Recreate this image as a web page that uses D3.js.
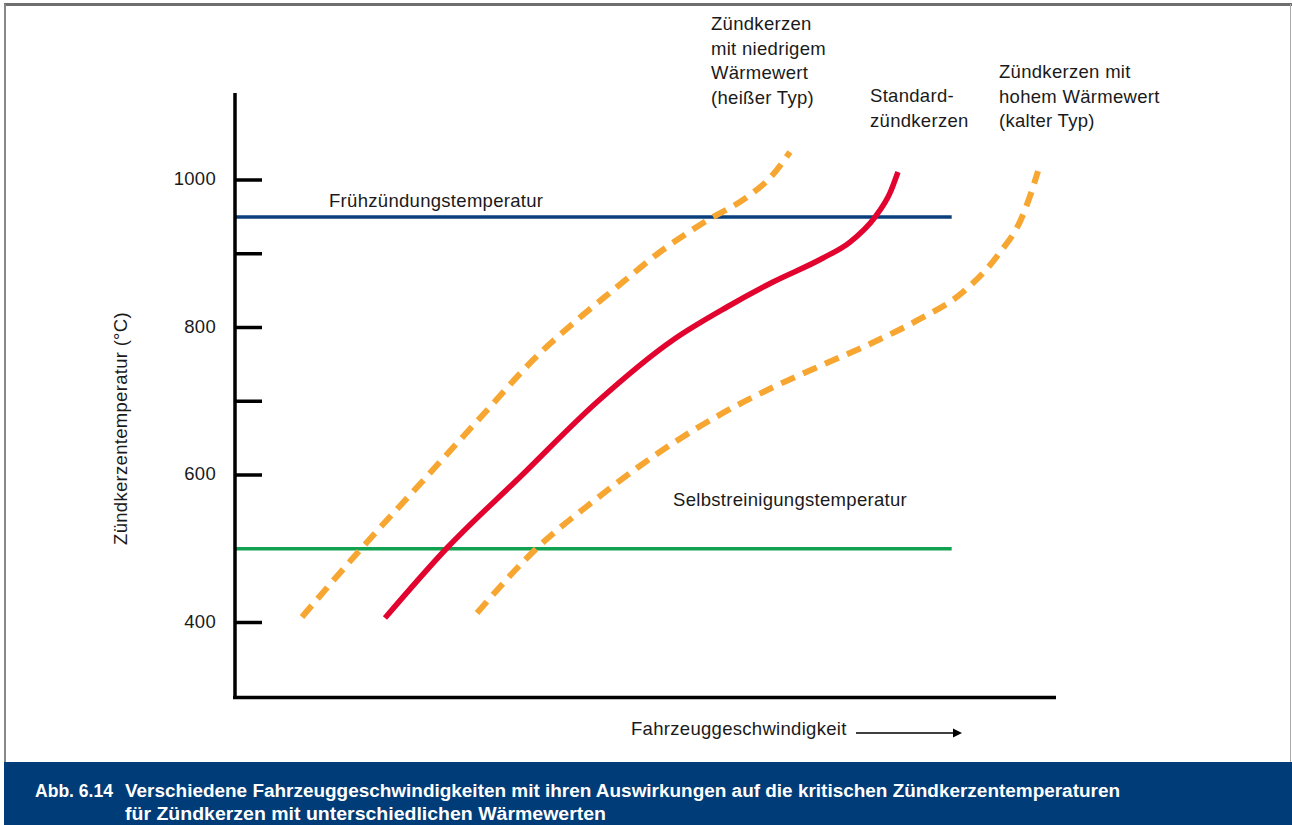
<!DOCTYPE html>
<html><head><meta charset="utf-8">
<script src="https://cdn.jsdelivr.net/npm/d3@7"></script>
<style>
html,body{margin:0;padding:0;background:#fff;}
svg text{font-family:"Liberation Sans",Arial,Helvetica,sans-serif;fill:#1a1a1a;}
</style></head><body>
<svg id="c" width="1292" height="825"></svg>
<script>
// ---- data ----
const yTicks = [400, 500, 600, 700, 800, 900, 1000];
const yTickLabels = ["400", "", "600", "", "800", "", "1000"];
const tickMarks = [400, 600, 700, 800, 900, 1000];
// speed is in arbitrary relative units (0..100)
const hotSpeed = [8.17, 15.24, 22.56, 29.88, 37.20, 41.71, 46.59, 51.83, 57.07, 62.80, 65.24, 67.68];
const hotTemp  = [407.5, 498.3, 587.8, 677.3, 765.4, 810.2, 855.0, 902.4, 941.7, 979.7, 1002.7, 1038.0];
const stdSpeed = [18.29, 25.85, 34.76, 44.15, 53.41, 60.00, 65.61, 71.71, 75.00, 78.05, 79.88, 80.85];
const stdTemp  = [406.1, 501.0, 597.3, 699.0, 783.1, 827.8, 861.7, 894.2, 915.9, 949.8, 982.4, 1010.8];
const coldSpeed = [29.51, 36.83, 43.90, 49.02, 54.02, 59.51, 65.24, 71.34, 77.68, 83.29, 88.78, 93.05, 95.98, 97.20, 97.93];
const coldTemp  = [412.9, 501.0, 566.1, 609.5, 647.5, 684.1, 717.0, 747.8, 779.0, 810.2, 848.1, 898.3, 949.8, 986.4, 1012.2];
const refLines = [
  {name: "Frühzündungstemperatur", temp: 950, end: 87.4},
  {name: "Selbstreinigungstemperatur", temp: 500, end: 87.4}
];
const seriesLabels = [
  ["Zündkerzen", "mit niedrigem", "Wärmewert", "(heißer Typ)"],
  ["Standard-", "zündkerzen"],
  ["Zündkerzen mit", "hohem Wärmewert", "(kalter Typ)"]
];
const yTitle = "Zündkerzentemperatur (°C)";
const xTitle = "Fahrzeuggeschwindigkeit";
const captionNum = "Abb. 6.14";
const captionLines = ["Verschiedene Fahrzeuggeschwindigkeiten mit ihren Auswirkungen auf die kritischen Zündkerzentemperaturen",
                      "für Zündkerzen mit unterschiedlichen Wärmewerten"];

// ---- drawing ----
const svg = d3.select("#c");
const x = d3.scaleLinear().domain([0, 100]).range([235, 1055]);
const y = d3.scaleLinear().domain([400, 1000]).range([622.5, 180]);
const FS = 18.5, LS = "0.3px";

// frame
svg.append("line").attr("x1",4).attr("x2",1292).attr("y1",4.5).attr("y2",4.5).attr("stroke","#6e6e6e").attr("stroke-width",3);
svg.append("line").attr("x1",5).attr("x2",5).attr("y1",4).attr("y2",762).attr("stroke","#888").attr("stroke-width",2);
svg.append("line").attr("x1",1290.5).attr("x2",1290.5).attr("y1",4).attr("y2",762).attr("stroke","#aaa").attr("stroke-width",1);

// reference lines
const refColors = ["#0a3f7c", "#12a150"];
refLines.forEach((r, i) => {
  svg.append("line").attr("x1", x(0)).attr("x2", x(r.end))
    .attr("y1", y(r.temp)).attr("y2", y(r.temp))
    .attr("stroke", refColors[i]).attr("stroke-width", 3.5);
});
svg.append("text").attr("x", 329).attr("y", 207).attr("font-size", FS).style("letter-spacing", LS).text(refLines[0].name);
svg.append("text").attr("x", 673).attr("y", 506).attr("font-size", FS).style("letter-spacing", LS).text(refLines[1].name);

// curves
const line = d3.line().x(d => x(d[0])).y(d => y(d[1])).curve(d3.curveMonotoneX);
const mk = (s, t) => s.map((v, i) => [v, t[i]]);
svg.append("path").datum(mk(hotSpeed, hotTemp)).attr("d", line)
  .attr("fill","none").attr("stroke","#f7a731").attr("stroke-width",6).attr("stroke-dasharray","15,9");
svg.append("path").datum(mk(coldSpeed, coldTemp)).attr("d", line)
  .attr("fill","none").attr("stroke","#f7a731").attr("stroke-width",6).attr("stroke-dasharray","15,9");
svg.append("path").datum(mk(stdSpeed, stdTemp)).attr("d", line)
  .attr("fill","none").attr("stroke","#e2032e").attr("stroke-width",5.5);

// axes
svg.append("line").attr("x1",235).attr("x2",235).attr("y1",93).attr("y2",699).attr("stroke","#000").attr("stroke-width",3.5);
svg.append("line").attr("x1",233).attr("x2",1056).attr("y1",697.5).attr("y2",697.5).attr("stroke","#000").attr("stroke-width",3.5);
svg.selectAll(".tk").data(tickMarks).enter().append("line")
  .attr("x1",235).attr("x2",262).attr("y1",d=>y(d)).attr("y2",d=>y(d))
  .attr("stroke","#000").attr("stroke-width",3.5);
svg.selectAll(".tl").data(yTicks.filter((d,i)=>yTickLabels[i])).enter().append("text")
  .attr("x",216).attr("y",d=>y(d)+5).attr("text-anchor","end").attr("font-size",FS).style("letter-spacing", LS)
  .text(d => yTickLabels[yTicks.indexOf(d)]);

svg.append("text").attr("transform","translate(127,428.5) rotate(-90)")
  .attr("text-anchor","middle").attr("font-size",FS).style("letter-spacing", LS).text(yTitle);

svg.append("text").attr("x",631).attr("y",735).attr("font-size",FS).style("letter-spacing", LS).text(xTitle);
svg.append("line").attr("x1",856).attr("x2",955).attr("y1",733).attr("y2",733).attr("stroke","#000").attr("stroke-width",1.5);
svg.append("path").attr("d","M953,728.5 L962,733 L953,737.5 Z").attr("fill","#000");

// series labels
const labelPos = [[711, 30], [870, 102], [999, 78]];
seriesLabels.forEach((lines, i) => {
  lines.forEach((t, j) => {
    svg.append("text").attr("x", labelPos[i][0]).attr("y", labelPos[i][1] + j * 24.6)
      .attr("font-size", FS).style("letter-spacing", LS).text(t);
  });
});

// caption
svg.append("rect").attr("x",4).attr("y",762).attr("width",1288).attr("height",63).attr("fill","#003c77");
const capFont = '"Liberation Sans Narrow","Arial Narrow","Liberation Sans",sans-serif';
const capText = (tx, xx, yy, len) => svg.append("text").attr("x",xx).attr("y",yy).attr("font-size",17.5).attr("font-weight","bold")
    .attr("textLength", len).attr("lengthAdjust","spacingAndGlyphs")
    .style("font-family",capFont).style("fill","#fff").text(tx);
capText(captionNum, 35, 797, 78);
capText(captionLines[0], 125, 797, 995);
capText(captionLines[1], 125, 820, 481);
</script>
</body></html>
